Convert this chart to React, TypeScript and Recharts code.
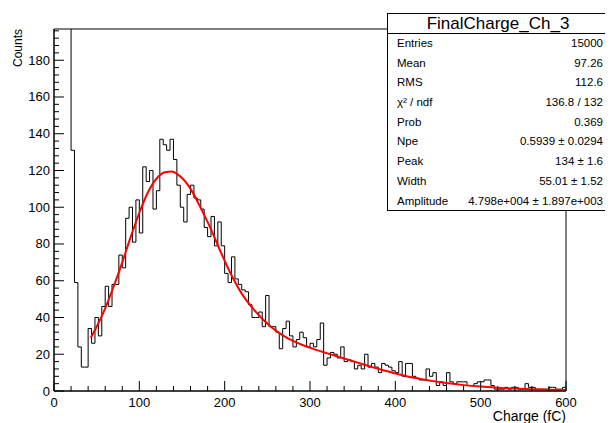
import { LineChart, Line, XAxis, YAxis, ReferenceArea } from "recharts";

// FinalCharge_Ch_3: 150 bins of 4 fC from 0 to 600
const binWidth = 4;
const histCounts = [
  2600, 2100, 1500, 900, 400, 131, 59, 24, 13, 13,
  34, 26, 40, 30, 46, 57, 46, 58, 58, 74,
  67, 94, 100, 81, 104, 86, 122, 114, 120, 99,
  109, 137, 134, 131, 137, 126, 112, 100, 92, 107,
  112, 105, 104, 99, 89, 84, 95, 79, 92, 79,
  64, 59, 73, 61, 58, 55, 54, 47, 40, 40,
  43, 35, 52, 35, 35, 32, 23, 34, 38, 30,
  24, 28, 32, 29, 24, 26, 24, 28, 37, 14,
  18, 21, 20, 18, 24, 16, 17, 16, 12, 14,
  12, 20, 13, 15, 13, 10, 15, 14, 13, 11,
  10, 16, 8, 15, 15, 8, 7, 6, 6, 12,
  8, 10, 3, 5, 3, 10, 5, 4, 5, 5,
  5, 3, 3, 4, 5, 5, 6, 6, 3, 1,
  1, 1, 2, 1, 2, 2, 1, 1, 4, 2,
  2, 1, 1, 1, 1, 2, 2, 1, 1, 2,
];

// fit curve
const fitX = [43, 50, 60, 70, 80, 90, 100, 110, 120, 130, 138, 146, 154, 162, 172, 184, 196, 208, 220, 232, 244, 256, 268, 280, 292, 304, 316, 328, 340, 352, 364, 376, 388, 400, 412, 424, 436, 448, 460, 480, 500, 520, 540, 560, 580, 600];
const fitY = [29, 35, 45, 57, 70, 84, 97, 108, 115.5, 119, 119.5, 117.5, 114, 108.5, 99.5, 88, 75, 63, 53, 45.5, 39.3, 34.3, 30.3, 27.3, 24.9, 22.9, 21.1, 19.4, 17.7, 16, 14.3, 12.6, 11, 9.5, 8.2, 7, 6, 5.1, 4.3, 3.2, 2.4, 1.8, 1.3, 1, 0.7, 0.5];

const statsTitle = "FinalCharge_Ch_3";
const statLabels = ["Entries", "Mean", "RMS", "χ² / ndf", "Prob", "Npe", "Peak", "Width", "Amplitude"];
const statValues = ["15000", "97.26", "112.6", "136.8 / 132", "0.369", "0.5939 ± 0.0294", "134 ± 1.6", "55.01 ± 1.52", "4.798e+004 ± 1.897e+003"];

const xMax = 600;
const yMax = 197;
const xTicks = Array.from({ length: 31 }, (_, i) => i * 20);
const yTicks = Array.from({ length: 50 }, (_, i) => i * 4);

const histData = [
  ...histCounts.map((c, i) => ({ x: i * binWidth, y: c })),
  { x: xMax, y: histCounts[histCounts.length - 1] },
];
const fitData = fitX.map((x, i) => ({ x, y: fitY[i] }));

const FONT = "'Liberation Sans', Arial, Helvetica, sans-serif";

function XTick(props: any) {
  const { x, y, payload } = props;
  const major = payload.value % 100 === 0;
  return (
    <g>
      <line x1={x} y1={y} x2={x} y2={y - (major ? 10 : 5)} stroke="#000" />
      {major && (
        <text x={x} y={y + 16} textAnchor="middle" fontSize={13} fill="#000" fontFamily={FONT}>
          {payload.value}
        </text>
      )}
    </g>
  );
}

function YTick(props: any) {
  const { x, y, payload } = props;
  const major = payload.value % 20 === 0;
  return (
    <g>
      <line x1={x} y1={y} x2={x + (major ? 10 : 5)} y2={y} stroke="#000" />
      {major && (
        <text x={x - 4} y={y + 4.5} textAnchor="end" fontSize={13} fill="#000" fontFamily={FONT}>
          {payload.value}
        </text>
      )}
    </g>
  );
}

function StatsBox() {
  return (
    <div
      style={{
        position: "absolute",
        left: 379,
        top: 5,
        width: 222,
        height: 198,
        border: "1px solid #000",
        background: "#fff",
        fontFamily: FONT,
        color: "#000",
        boxSizing: "border-box",
      }}
    >
      <div
        style={{
          height: 19,
          lineHeight: "19px",
          fontSize: 17,
          textAlign: "center",
          borderBottom: "1px solid #000",
        }}
      >
        {statsTitle}
      </div>
      {statLabels.map((label, i) => (
        <div
          key={label}
          style={{
            display: "flex",
            justifyContent: "space-between",
            height: 19.7,
            lineHeight: "19.7px",
            fontSize: 11.5,
            padding: "0 5px 0 9px",
          }}
        >
          <span>{label}</span>
          <span>{statValues[i]}</span>
        </div>
      ))}
    </div>
  );
}

export default function App() {
  return (
    <div style={{ position: "relative", width: 605, height: 415, fontFamily: FONT }}>
      <LineChart width={605} height={415} margin={{ top: 21, right: 47, left: 6, bottom: 2 }}>
        <XAxis
          type="number"
          dataKey="x"
          domain={[0, xMax]}
          ticks={xTicks}
          interval={0}
          tickSize={0}
          tickMargin={0}
          tick={<XTick />}
          height={30}
          axisLine={{ stroke: "#000" }}
          allowDataOverflow
          label={{
            content: (p: any) => {
              const vb = p.viewBox;
              return (
                <text x={vb.x + vb.width} y={vb.y + 30} textAnchor="end" fontSize={14} fill="#000" fontFamily={FONT}>
                  Charge (fC)
                </text>
              );
            },
          }}
        />
        <YAxis
          type="number"
          dataKey="y"
          domain={[0, yMax]}
          ticks={yTicks}
          interval={0}
          tickSize={0}
          tickMargin={0}
          tick={<YTick />}
          width={40}
          axisLine={{ stroke: "#000" }}
          allowDataOverflow
          label={{
            content: (p: any) => {
              const vb = p.viewBox;
              const cx = 14;
              const cy = vb.y;
              return (
                <text
                  x={cx}
                  y={cy}
                  transform={`rotate(-90 ${cx} ${cy})`}
                  textAnchor="end"
                  fontSize={12}
                  fill="#000"
                  fontFamily={FONT}
                >
                  Counts
                </text>
              );
            },
          }}
        />
        <ReferenceArea x1={0} x2={xMax} y1={0} y2={yMax} fill="none" stroke="#000" ifOverflow="visible" />
        <Line
          data={histData}
          dataKey="y"
          type="stepAfter"
          stroke="#000"
          strokeWidth={1}
          dot={false}
          activeDot={false}
          isAnimationActive={false}
        />
        <Line
          data={fitData}
          dataKey="y"
          type="monotone"
          stroke="#ff0000"
          strokeWidth={2}
          dot={false}
          activeDot={false}
          isAnimationActive={false}
        />
      </LineChart>
      <StatsBox />
    </div>
  );
}
